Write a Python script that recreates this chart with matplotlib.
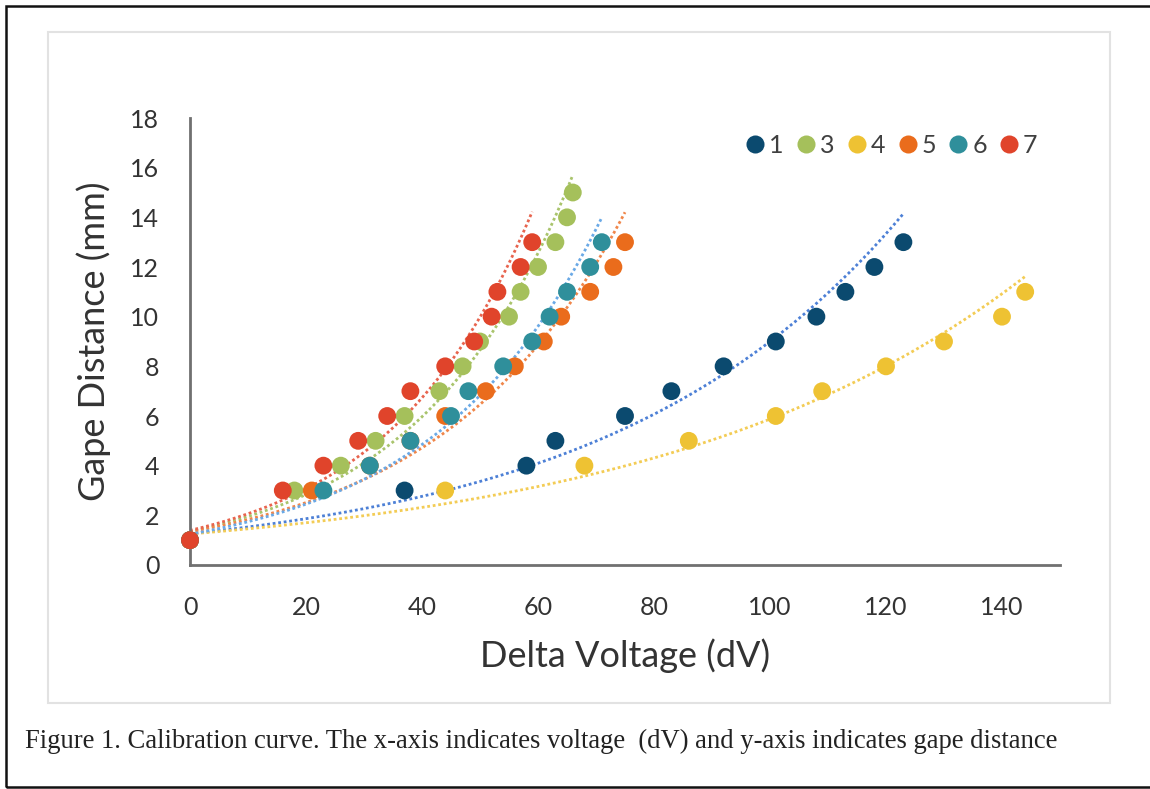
import numpy as np
import matplotlib
matplotlib.use("Agg")
import matplotlib.pyplot as plt
from matplotlib.patches import Rectangle
from matplotlib.lines import Line2D

# ---- data ----
labels = ["1", "3", "4", "5", "6", "7"]
x1 = [0, 37, 58, 63, 75, 83, 92, 101, 108, 113, 118, 123]
y1 = [1, 3, 4, 5, 6, 7, 8, 9, 10, 11, 12, 13]
x3 = [0, 18, 26, 32, 37, 43, 47, 50, 55, 57, 60, 63, 65, 66]
y3 = [1, 3, 4, 5, 6, 7, 8, 9, 10, 11, 12, 13, 14, 15]
x4 = [0, 44, 68, 86, 101, 109, 120, 130, 140, 144]
y4 = [1, 3, 4, 5, 6, 7, 8, 9, 10, 11]
x5 = [0, 21, 31, 38, 44, 51, 56, 61, 64, 69, 73, 75]
y5 = [1, 3, 4, 5, 6, 7, 8, 9, 10, 11, 12, 13]
x6 = [0, 23, 31, 38, 45, 48, 54, 59, 62, 65, 69, 71]
y6 = [1, 3, 4, 5, 6, 7, 8, 9, 10, 11, 12, 13]
x7 = [0, 16, 23, 29, 34, 38, 44, 49, 52, 53, 57, 59]
y7 = [1, 3, 4, 5, 6, 7, 8, 9, 10, 11, 12, 13]

xticks = [0, 20, 40, 60, 80, 100, 120, 140]
yticks = [0, 2, 4, 6, 8, 10, 12, 14, 16, 18]

marker_colors = ["#0b4a6f", "#a5c05b", "#eec233", "#ea6c1c", "#2f8f9b", "#e0442b"]
trend_colors = ["#4d80d6", "#a9c46c", "#f3cc55", "#f0864a", "#6aa9e6", "#e8644e"]

series = [(x1, y1), (x3, y3), (x4, y4), (x5, y5), (x6, y6), (x7, y7)]

W, H = 1150, 789
fig = plt.figure(figsize=(W / 100, H / 100), dpi=100)

# outer frames
fig.add_artist(Rectangle((6 / W, 1 - 787 / H), 1.2, (787 - 6) / H,
                         transform=fig.transFigure, fill=False,
                         edgecolor="#111111", linewidth=1.8))
fig.add_artist(Rectangle((48 / W, 1 - 703 / H), (1110 - 48) / W, (703 - 32) / H,
                         transform=fig.transFigure, fill=False,
                         edgecolor="#e2e2e2", linewidth=1.5))

ax = fig.add_axes([190 / W, 1 - 565 / H, (1060 - 190) / W, (565 - 118) / H])
ax.set_xlim(0, 150)
ax.set_ylim(0, 18)

tick_font = "Lato"
# trendlines (exponential, Excel-style least squares on ln y)
for (xs, ys), tc in zip(series, trend_colors):
    xs_a = np.array(xs, float)
    ys_a = np.array(ys, float)
    b, lna = np.polyfit(xs_a, np.log(ys_a), 1)
    xx = np.linspace(0, xs_a.max(), 200)
    ax.plot(xx, np.exp(lna) * np.exp(b * xx), linestyle=(0, (1, 1)),
            color=tc, linewidth=2.0, zorder=2)

handles = []
for (xs, ys), mc, lab in zip(series, marker_colors, labels):
    ax.scatter(xs, ys, s=165, color=mc, edgecolors="none", zorder=3, clip_on=False)
    handles.append(Line2D([], [], linestyle="none", marker="o", markersize=13,
                          markerfacecolor=mc, markeredgecolor="none", label=lab))

ax.set_xticks(xticks)
ax.set_yticks(yticks)
ax.set_xticklabels([str(v) for v in xticks], fontsize=18, family=tick_font, color="#333333")
ax.set_yticklabels([str(v) for v in yticks], fontsize=18, family=tick_font, color="#333333")
ax.tick_params(axis="y", length=0, pad=22)
ax.tick_params(axis="x", length=0, pad=22)

for s in ["top", "right"]:
    ax.spines[s].set_visible(False)
for s in ["left", "bottom"]:
    ax.spines[s].set_color("#707070")
    ax.spines[s].set_linewidth(2.0)

ax.set_xlabel("Delta Voltage (dV)", fontsize=26, family=tick_font, color="#333333", labelpad=14)
ax.set_ylabel("Gape Distance (mm)", fontsize=26, family=tick_font, color="#333333", labelpad=14)

leg = ax.legend(handles=handles, loc="center right", ncol=6, frameon=False,
                bbox_to_anchor=((1060 - 190) / 870, (565 - 145) / 447),
                handlelength=0.8, handletextpad=0.15, columnspacing=0.5,
                prop={"family": tick_font, "size": 18})
for t in leg.get_texts():
    t.set_color("#404040")

fig.text(25 / W, 1 - 741 / H,
         "Figure 1. Calibration curve. The x-axis indicates voltage  (dV) and y-axis indicates gape distance",
         fontsize=19.2, family="Liberation Serif", color="#222222", va="center", ha="left")

fig.savefig("out.png", dpi=100)
